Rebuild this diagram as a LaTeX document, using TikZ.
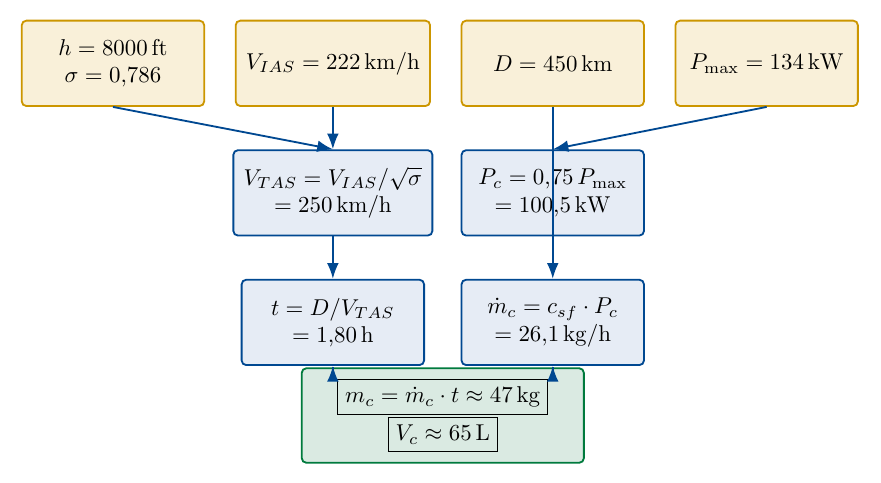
\documentclass[tikz,border=0pt]{standalone}
\usepackage{amsmath}
\usepackage{amssymb}
\usepackage{xcolor}
\usepackage{tikz}
\usetikzlibrary{arrows.meta,positioning,calc}

\definecolor{inyellow}{RGB}{249,240,217}
\definecolor{ingold}{RGB}{204,150,0}
\definecolor{calcblue}{RGB}{230,236,245}
\definecolor{darkblue}{RGB}{0,72,145}
\definecolor{resgreen}{RGB}{218,234,226}
\definecolor{darkgreen}{RGB}{0,122,61}

\begin{document}
\begin{tikzpicture}[
  node distance=0.65cm and 0.455cm,
  inbox/.style={rectangle,draw=ingold,thick,rounded corners=2pt,align=center,inner xsep=4.5pt,minimum width=2.8cm,minimum height=1.31cm,fill=inyellow},
  calcbox/.style={rectangle,draw=darkblue,thick,rounded corners=2pt,align=center,inner xsep=4.5pt,minimum width=2.8cm,minimum height=1.31cm,fill=calcblue},
  resbox/.style={rectangle,draw=darkgreen,thick,rounded corners=2pt,align=center,minimum width=4.33cm,minimum height=1.45cm,fill=resgreen},
  arr/.style={-{Latex[length=2.4mm]},thick,darkblue}
]
\useasboundingbox (-1.734,0.972) rectangle (11.788,-6.427);
\node[inbox] (h) at (0,0) {$h = 8000\,\mathrm{ft}$\\$\sigma = 0{,}786$};
\node[inbox,right=of h] (vias) {$V_{IAS} = 222\,\mathrm{km/h}$};
\node[inbox,right=of vias] (dist) {$D = 450\,\mathrm{km}$};
\node[inbox,right=of dist] (pmax) {$P_{\max} = 134\,\mathrm{kW}$};
\node[calcbox,below=of vias] (vtas) {$V_{TAS} = V_{IAS}/\sqrt{\sigma}$\\$= 250\,\mathrm{km/h}$};
\node[calcbox,below=of dist] (pc) {$P_c = 0{,}75\,P_{\max}$\\$= 100{,}5\,\mathrm{kW}$};
\node[calcbox,below=of vtas] (time) {$t = D/V_{TAS}$\\$= 1{,}80\,\mathrm{h}$};
\node[calcbox,below=of pc] (flow) {$\dot{m}_c = c_{sf}\cdot P_c$\\$= 26{,}1\,\mathrm{kg/h}$};
\coordinate (mid) at ($(time.south)!0.5!(flow.south)$);
\node[resbox,below=0.6pt of mid] (fuel) {\fbox{$m_c = \dot{m}_c \cdot t \approx 47\,\mathrm{kg}$}\\\fbox{$V_c \approx 65\,\mathrm{L}$}};
\draw[arr] (h.south) -- (vtas.north);
\draw[arr] (vias) -- (vtas);
\draw[arr] (pmax.south) -- (pc.north);
\draw[arr] (dist) -- (flow);
\draw[arr] (vtas) -- (time);
\draw[arr] (fuel.north -| time.south) -- (time.south);
\draw[arr] (fuel.north -| flow.south) -- (flow.south);
\end{tikzpicture}
\end{document}
